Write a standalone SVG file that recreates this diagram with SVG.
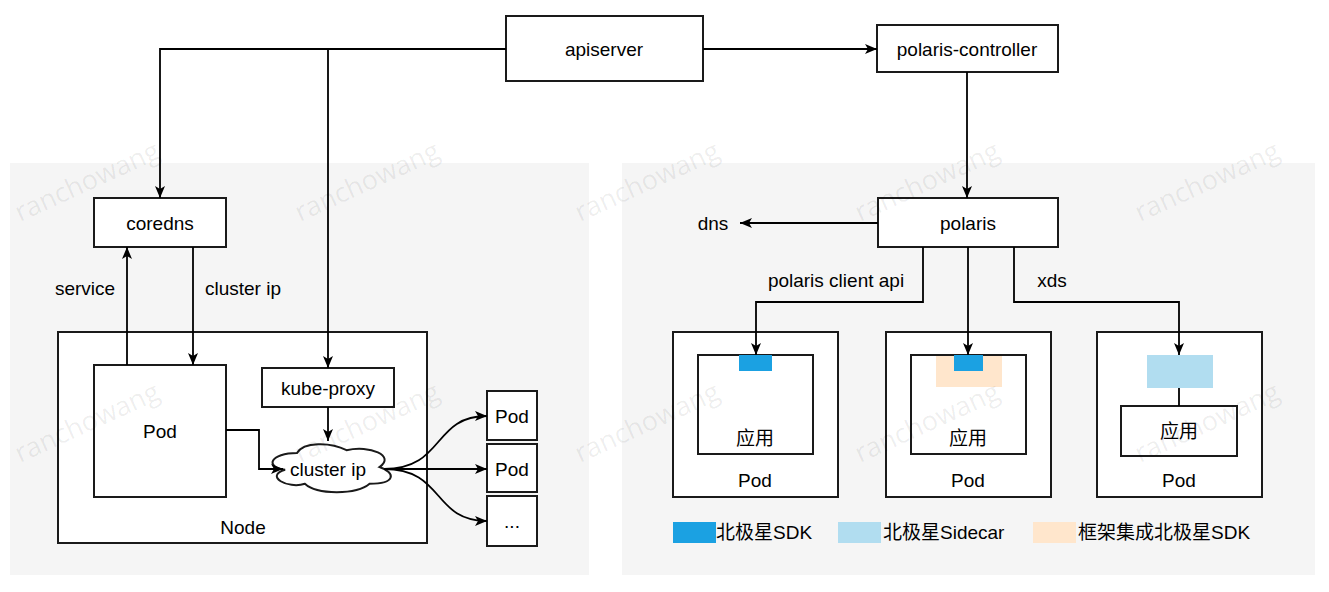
<svg xmlns="http://www.w3.org/2000/svg" width="1329" height="592" viewBox="0 0 1329 592">
<defs>
<marker id="arr" markerUnits="userSpaceOnUse" viewBox="0 0 12 10" refX="12" refY="5" markerWidth="12" markerHeight="10" orient="auto">
<path d="M0,0 L12,5 L0,10 L3,5 Z" fill="#000"/>
</marker>
</defs>
<style>
.box{fill:#fff;stroke:#1a1a1a;stroke-width:2}
.t{font-family:"Liberation Sans",Arial,sans-serif;font-size:19px;fill:#000;text-anchor:middle;dominant-baseline:central}
.tl{font-family:"Liberation Sans","Noto Sans CJK SC",sans-serif;font-size:19px;fill:#000;dominant-baseline:central}
.cjk{font-family:"Liberation Sans","Noto Sans CJK SC",sans-serif}
.e{fill:none;stroke:#000;stroke-width:1.8}
.ea{fill:none;stroke:#000;stroke-width:1.8;marker-end:url(#arr)}
.wm{font-family:"Open Sans",sans-serif;font-size:27px;fill:#000;fill-opacity:0.07}
</style>
<rect width="1329" height="592" fill="#fff"/>
<g id="panels">
<rect x="10" y="163" width="579" height="412" fill="#f5f5f5"/>
<rect x="622" y="163" width="693" height="412" fill="#f5f5f5"/>
</g>
<g id="apiserver"><rect class="box" x="506" y="16" width="197" height="65"/><text class="t" x="604" y="49">apiserver</text></g>
<g id="polaris-controller"><rect class="box" x="877" y="25" width="181" height="47"/><text class="t" x="967" y="49">polaris-controller</text></g>
<g id="coredns"><rect class="box" x="94" y="198" width="132" height="49"/><text class="t" x="160" y="223">coredns</text></g>
<g id="node"><rect class="box" x="58" y="332" width="369" height="211"/><text class="t" x="243" y="527">Node</text></g>
<g id="pod-main"><rect class="box" x="94" y="365" width="132" height="132"/><text class="t" x="160" y="431">Pod</text></g>
<g id="kube-proxy"><rect class="box" x="262" y="368" width="132" height="39"/><text class="t" x="328" y="388">kube-proxy</text></g>
<g id="cluster-ip">
<path class="box" d="M297,453 C270.6,453 264,467 285.1,469.8 C264,476 287.8,489.4 304.9,483.8 C316.8,495 356.4,495 369.6,483.8 C396,483.8 396,472.6 379.5,467 C396,455.8 369.6,444.6 346.5,450.2 C330,441.8 303.6,441.8 297,453 Z"/>
<text class="t" x="328" y="469">cluster ip</text>
</g>
<g id="pod-r1"><rect class="box" x="487" y="391" width="50" height="49"/><text class="t" x="512" y="416">Pod</text></g>
<g id="pod-r2"><rect class="box" x="487" y="444" width="50" height="48"/><text class="t" x="512" y="469">Pod</text></g>
<g id="pod-r3"><rect class="box" x="487" y="496" width="50" height="50"/><text class="t" x="512" y="521">...</text></g>
<g id="polaris"><rect class="box" x="878" y="198" width="180" height="49"/><text class="t" x="968" y="223">polaris</text></g>
<g id="pod-a">
<rect class="box" x="673" y="332" width="165" height="165"/>
<rect class="box" x="698" y="355" width="115" height="99"/>
<rect x="739" y="355" width="33" height="16" fill="#1ba1e2"/>
<text class="t cjk" x="755" y="438">应用</text>
<text class="t" x="755" y="480">Pod</text>
</g>
<g id="pod-b">
<rect class="box" x="886" y="332" width="165" height="165"/>
<rect class="box" x="911" y="355" width="115" height="99"/>
<rect x="936" y="356" width="66" height="31" fill="#ffe6cc"/>
<rect x="954" y="355" width="29" height="16" fill="#1ba1e2"/>
<text class="t cjk" x="968" y="438">应用</text>
<text class="t" x="968" y="480">Pod</text>
</g>
<g id="pod-c">
<rect class="box" x="1097" y="332" width="165" height="165"/>
<rect x="1147" y="355" width="66" height="33" fill="#b1ddf0"/>
<rect class="box" x="1121" y="406" width="116" height="50"/>
<text class="t cjk" x="1179" y="431">应用</text>
<text class="t" x="1179" y="480">Pod</text>
</g>
<g id="legend">
<rect x="673" y="522" width="43" height="21" fill="#1ba1e2"/>
<text class="tl" x="716" y="532">北极星SDK</text>
<rect x="838" y="522" width="43" height="21" fill="#b1ddf0"/>
<text class="tl" x="883" y="532">北极星Sidecar</text>
<rect x="1033" y="522" width="43" height="21" fill="#ffe6cc"/>
<text class="tl" x="1078" y="532">框架集成北极星SDK</text>
</g>
<g id="connectors">
<path class="ea" d="M506,49 H160 V198"/>
<path class="ea" d="M506,49 H328 V368"/>
<path class="ea" d="M703,49 H877"/>
<path class="ea" d="M967,72 V198"/>
<path class="ea" d="M127,365 V247"/>
<path class="ea" d="M193,247 V365"/>
<path class="ea" d="M328,407 V441"/>
<path class="ea" d="M226,430 H259 V469 H283"/>
<path class="ea" d="M384,469 C445,469 432,416 487,416"/>
<path class="ea" d="M384,469 H487"/>
<path class="ea" d="M384,469 C445,469 432,521 487,521"/>
<path class="ea" d="M878,223 H740"/>
<path class="ea" d="M923,247 V302 H756 V355"/>
<path class="ea" d="M968,247 V355"/>
<path class="ea" d="M1014,247 V302 H1179 V355"/>
<path class="e" d="M1179,388 V406"/>
<text class="t" x="85" y="288">service</text>
<text class="t" x="243" y="288">cluster ip</text>
<text class="t" x="713" y="223">dns</text>
<text class="t" x="836" y="280">polaris client api</text>
<text class="t" x="1052" y="280">xds</text>
</g>
<g id="watermarks">
<text class="wm" transform="translate(20,222) rotate(-24.5)">ranchowang</text>
<text class="wm" transform="translate(300,222) rotate(-24.5)">ranchowang</text>
<text class="wm" transform="translate(580,222) rotate(-24.5)">ranchowang</text>
<text class="wm" transform="translate(860,222) rotate(-24.5)">ranchowang</text>
<text class="wm" transform="translate(1140,222) rotate(-24.5)">ranchowang</text>
<text class="wm" transform="translate(20,463) rotate(-24.5)">ranchowang</text>
<text class="wm" transform="translate(300,463) rotate(-24.5)">ranchowang</text>
<text class="wm" transform="translate(580,463) rotate(-24.5)">ranchowang</text>
<text class="wm" transform="translate(860,463) rotate(-24.5)">ranchowang</text>
<text class="wm" transform="translate(1140,463) rotate(-24.5)">ranchowang</text>
</g>
</svg>
